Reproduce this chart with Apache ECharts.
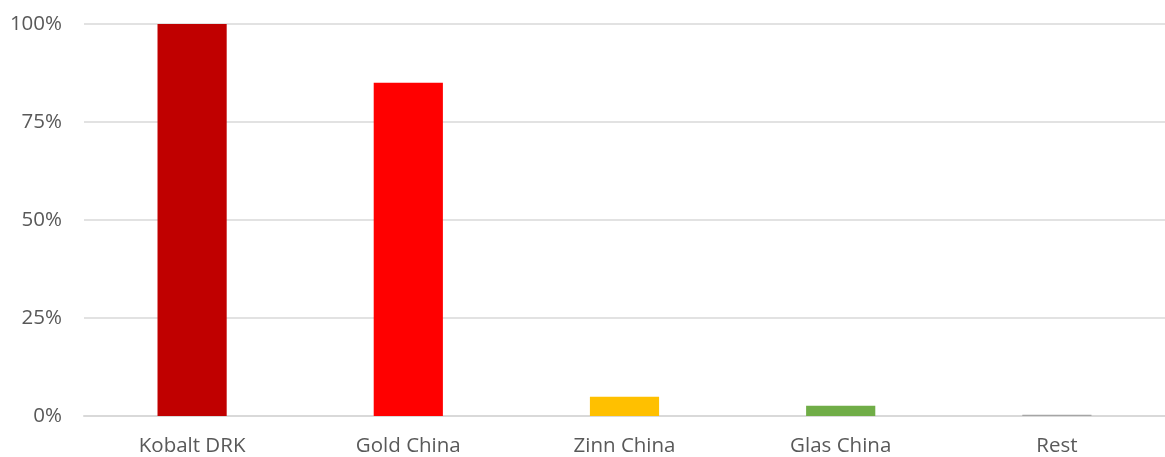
<!DOCTYPE html>
<html>
<head>
<meta charset="utf-8">
<script src="https://cdn.jsdelivr.net/npm/echarts@6/dist/echarts.min.js"></script>
<style>
  html, body { margin: 0; padding: 0; background: #fff; }
  #chart { width: 1165px; height: 457px; }
</style>
</head>
<body>
<div id="chart"></div>
<script>
// Anteile je Rohstoff/Region
var categories = ['Kobalt DRK', 'Gold China', 'Zinn China', 'Glas China', 'Rest']
var values = [100, 85, 4.9, 2.6, 0.3]
var barColors = ['#C00000', '#FF0000', '#FFC000', '#70AD47', '#A5A5A5']

var chart = echarts.init(document.getElementById('chart'))
var option = {
  animation: false,
  grid: {
    left: 84,
    right: 0,
    top: 24,
    bottom: 38
  },
  xAxis: {
    type: 'category',
    data: categories,
    axisLine: { lineStyle: { color: '#D9D9D9', width: 2 } },
    axisTick: { show: false },
    axisLabel: {
      color: '#595959',
      fontSize: 20.5,
      fontFamily: 'Open Sans',
      margin: 20
    }
  },
  yAxis: {
    type: 'value',
    min: 0,
    max: 100,
    interval: 25,
    axisLine: { show: false },
    axisTick: { show: false },
    splitLine: { lineStyle: { color: '#D9D9D9', width: 1.5 } },
    axisLabel: {
      color: '#595959',
      fontSize: 20.5,
      fontFamily: 'Open Sans',
      margin: 22,
      formatter: '{value}%'
    }
  },
  series: [{
    type: 'bar',
    data: values.map(function(v, i) {
      return { value: v, itemStyle: { color: barColors[i] } }
    }),
    barWidth: '32%'
  }]
}
chart.setOption(option)
</script>
</body>
</html>
